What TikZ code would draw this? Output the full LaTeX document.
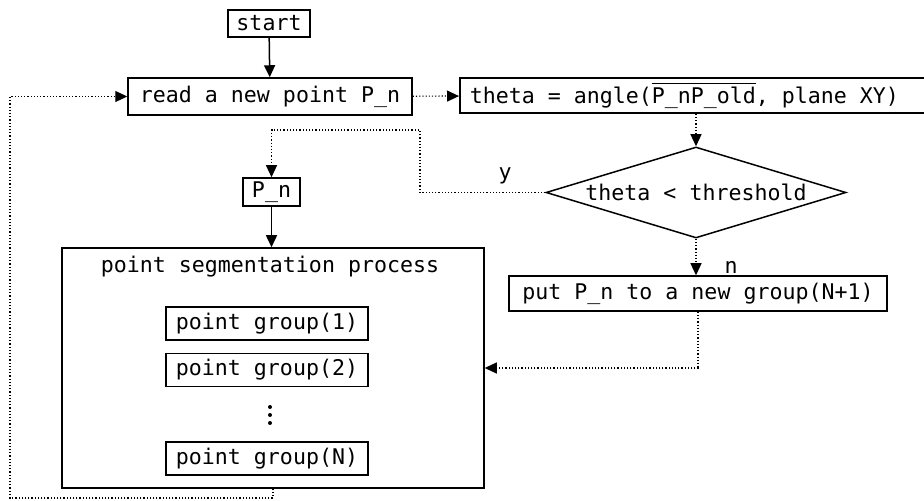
\documentclass[tikz,border=0pt]{standalone}
\usepackage{fontspec}
\usepackage{amsmath}
\usetikzlibrary{arrows.meta,shapes.geometric}
\newfontfamily\gulimfont{DejaVu Sans Mono}
\newcommand{\chartfont}{\gulimfont\fontsize{10.8}{12}\selectfont}

\begin{document}
\begin{tikzpicture}[x=0.5pt,y=-0.5pt,>={Triangle[length=6pt,width=5.5pt]},
    box/.style={draw,line width=0.75pt,inner sep=0pt,font=\chartfont},
    flow/.style={->,line width=0.75pt},
    dotflow/.style={->,line width=0.6pt,densely dotted}]
        \useasboundingbox (0,0) rectangle (924,501);
        \node[box,minimum width=41pt,minimum height=13.5pt] (start) at (269,23.5) {start};
        \node[box,minimum width=142pt,minimum height=18.5pt] (read) at (270,96.5) {read a new point P\_n};
        \node[box,anchor=west,inner xsep=5pt,minimum height=17.5pt] (theta) at (459,95.5) {\makebox[232pt][l]{theta = angle($\overline{\hbox{\chartfont P\_nP\_old}}$, plane XY)}};
        \node[box,diamond,aspect=3.3,minimum width=150pt,minimum height=45.5pt] (test) at (696,192.5) {theta < threshold};
        \node[box,minimum width=28.5pt,minimum height=14pt] (pn) at (271.5,192) {P\_n};
        \node[box,minimum width=211pt,minimum height=120pt] (seg) at (273,368) {};
        \node[font=\chartfont] (segtitle) at (270,267) {point segmentation process};
        \node[box,minimum width=101pt,minimum height=16.5pt] (grp1) at (267,323.5) {point group(1)};
        \node[box,minimum width=101pt,minimum height=16.5pt] (grp2) at (267,370) {point group(2)};
        \fill (270,407) circle (1pt) (270,415) circle (1pt) (270,423) circle (1pt);
        \node[box,minimum width=101pt,minimum height=16.5pt] (grpn) at (267,458.5) {point group(N)};
        \node[box,minimum width=189pt,minimum height=17.5pt] (put) at (698,293.5) {put P\_n to a new group(N+1)};
        \coordinate (ybend) at (420,130);
        \coordinate (nbend) at (699,368);
        \coordinate (loopend) at (10,498);
        \draw[flow] (start)--(read);
        \draw[dotflow] (read)--(theta);
        \draw[dotflow] (test.north|-theta.south)--(test.north);
        \draw[dotflow] (test.west)-|(ybend)-|(pn.north);
        \node[font=\chartfont] (ylabel) at (505,176) {y};
        \draw[flow] (pn.south)--(pn.south|-seg.north);
        \draw[dotflow] (test.south)--(test.south|-put.north);
        \node[font=\chartfont] (nlabel) at (731,267) {n};
        \draw[dotflow] (put.south)|-(nbend)--(seg.east);
        \draw[dotflow] (seg.south)|-(loopend)|-(read.west);
    \end{tikzpicture}
\end{document}
